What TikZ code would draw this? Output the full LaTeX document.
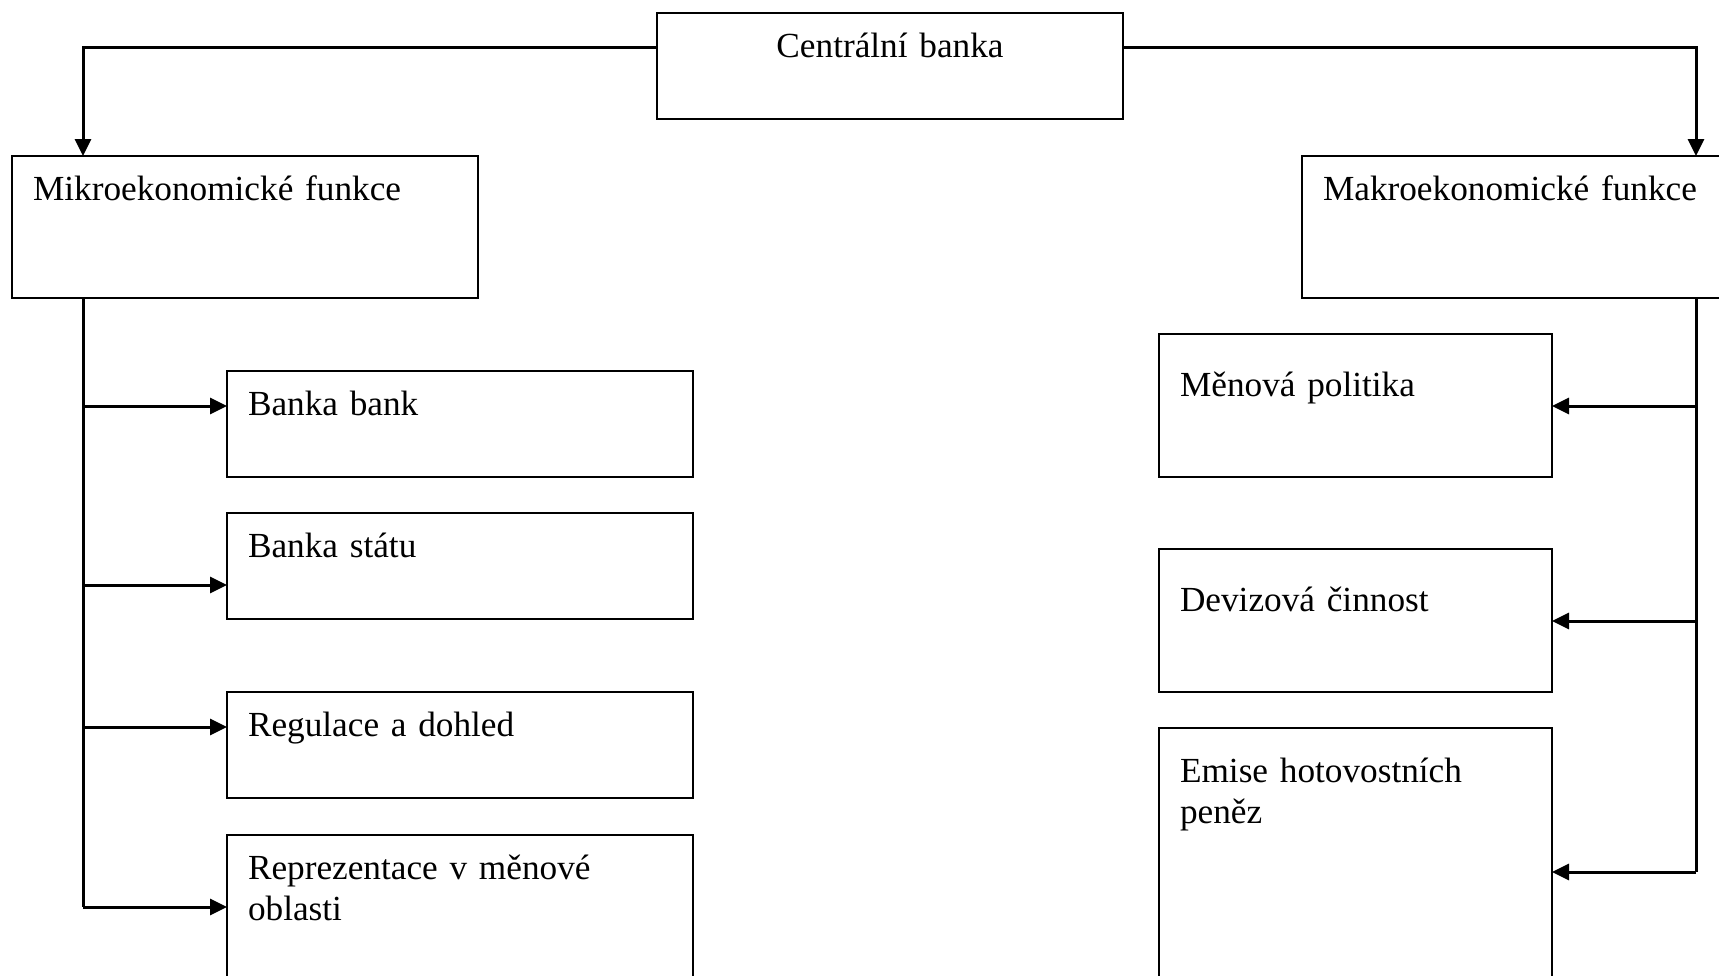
\documentclass[tikz,border=0pt]{standalone}
\usepackage{fontspec}
\setmainfont{Liberation Serif}
\usetikzlibrary{arrows.meta}
\usetikzlibrary{positioning}

\tikzset{
  box/.style={draw, line width=2.2pt, anchor=north west, outer sep=0pt,
    inner xsep=21pt, inner ysep=0pt, text width=#1, align=left,
    text height=44pt, text depth=62pt,
    font=\fontsize{35.25pt}{41.7pt}\selectfont},
  box/.default=424pt,
  link/.style={line width=3pt},
  arr/.style={link, -{Triangle[length=17pt,width=16pt]}}
}

\begin{document}
\begin{tikzpicture}[x=1pt, y=-1pt]
  \useasboundingbox (0,0) rectangle (1719,975);
  \clip (0,0) rectangle (1719,975);

  % top level
  \node[box, align=center] (cb) at (657,13) {Centrální banka};
  \node[box, text depth=98pt] (mikro) at (12,156) {Mikroekonomické funkce};
  \node[box, text depth=98pt] (makro) at (1302,156) {Makroekonomické funkce};

  % left column
  \node[box] (banka) at (227,371) {Banka bank};
  \node[box] (stat) at (227,513) {Banka státu};
  \node[box] (reg) at (227,692) {Regulace a dohled};
  \node[box, text depth=300pt] (rep) at (227,835) {Reprezentace v měnové\\oblasti};

  % right column
  \node[box=351pt, text height=62pt, text depth=81pt] (menova) at (1159,334) {Měnová politika};
  \node[box=351pt, text height=62pt, text depth=81pt] (deviz) at (1159,549) {Devizová činnost};
  \node[box=351pt, text height=54pt, text depth=300pt] (emise) at (1159,728) {Emise hotovostních\\peněz};

  % trunk lines
  \coordinate (top) at (0,47);
  \coordinate (lx) at (83,0);
  \coordinate (rx) at (1696,0);
  \draw[arr] (cb.west |- top) -| (lx |- mikro.north);
  \draw[arr] (cb.east |- top) -| (rx |- makro.north);

  % branches
  \foreach \n/\d in {banka/35, stat/72, reg/35, rep/72} {
    \coordinate (\n-in) at ([yshift=-\d pt]\n.north west);
    \draw[arr] (lx |- \n-in) -- (\n-in);
  }
  \foreach \n/\d in {menova/72, deviz/72, emise/144} {
    \coordinate (\n-in) at ([yshift=-\d pt]\n.north east);
    \draw[arr] (rx |- \n-in) -- (\n-in);
  }
  \draw[link] (lx |- mikro.south) -- (lx |- rep-in);
  \draw[link] (rx |- makro.south) -- (rx |- emise-in);
\end{tikzpicture}
\end{document}
